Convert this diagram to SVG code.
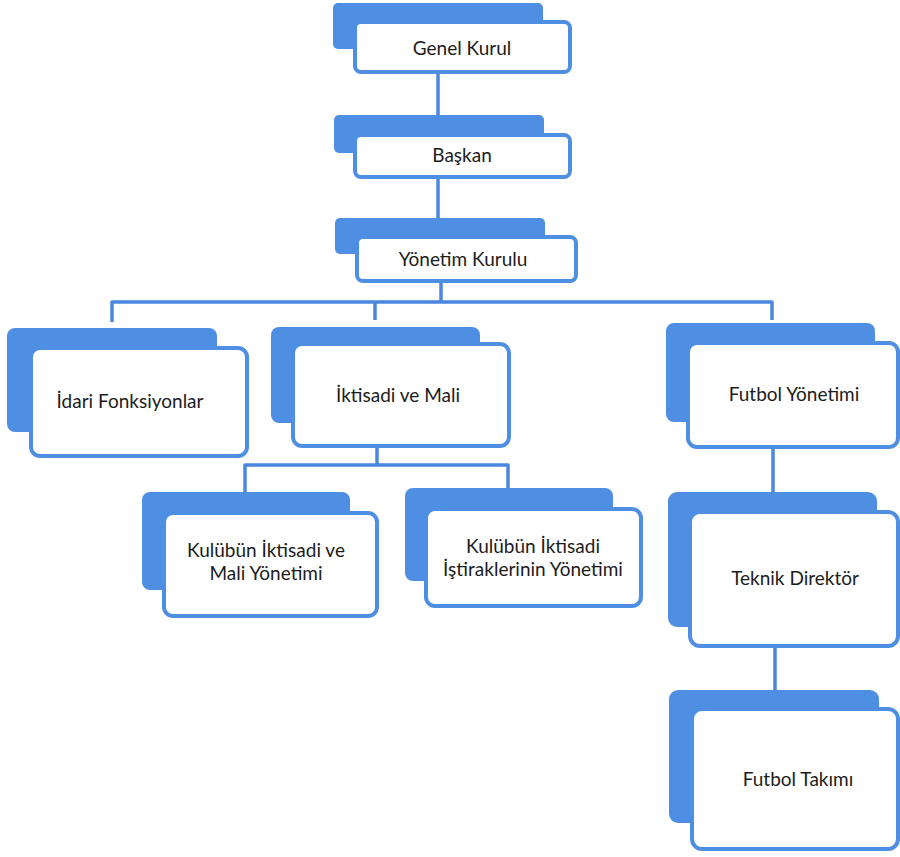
<svg xmlns="http://www.w3.org/2000/svg" width="900" height="857" viewBox="0 0 900 857">
<style>
.back{fill:#4f8fe3;}
.front{fill:#ffffff;stroke:#4f8fe3;stroke-width:4;}
.lbl{font-family:Lato,"Open Sans","Liberation Sans",sans-serif;font-size:19px;fill:#1c1c1c;text-anchor:middle;}
.conn{fill:none;stroke:#4a88df;stroke-width:3.5;stroke-linejoin:round;}
</style>
<rect width="900" height="857" fill="#ffffff"/>
<g id="connectors">
<path class="conn" d="M438,73 V117"/>
<path class="conn" d="M438,178 V218"/>
<path class="conn" d="M441,282 V302"/>
<path class="conn" d="M112,322 V302 H772 V320"/>
<path class="conn" d="M375,302 V320"/>
<path class="conn" d="M377,447 V465"/>
<path class="conn" d="M245,492 V465 H508 V490"/>
<path class="conn" d="M773,448 V492"/>
<path class="conn" d="M775,647 V692"/>
</g>
<g id="genel-kurul">
<rect class="back" x="333" y="3" width="210" height="46" rx="5"/>
<rect class="front" x="355" y="22" width="215" height="50" rx="6"/>
<text class="lbl" x="462" y="55">Genel Kurul</text>
</g>
<g id="baskan">
<rect class="back" x="334" y="115" width="210" height="38" rx="5"/>
<rect class="front" x="355" y="135" width="215" height="42" rx="6"/>
<text class="lbl" x="462" y="162">Başkan</text>
</g>
<g id="yonetim-kurulu">
<rect class="back" x="335" y="218" width="210" height="36" rx="5"/>
<rect class="front" x="357" y="237" width="219" height="44" rx="6"/>
<text class="lbl" x="463" y="266">Yönetim Kurulu</text>
</g>
<g id="idari-fonksiyonlar">
<rect class="back" x="7" y="328" width="210" height="104" rx="8"/>
<rect class="front" x="31" y="348" width="216" height="108" rx="9"/>
<text class="lbl" x="130" y="408">İdari Fonksiyonlar</text>
</g>
<g id="iktisadi-ve-mali">
<rect class="back" x="271" y="327" width="209" height="96" rx="8"/>
<rect class="front" x="293" y="344" width="216" height="102" rx="9"/>
<text class="lbl" x="398" y="402">İktisadi ve Mali</text>
</g>
<g id="futbol-yonetimi">
<rect class="back" x="666" y="323" width="209" height="99" rx="8"/>
<rect class="front" x="688" y="343" width="210" height="104" rx="9"/>
<text class="lbl" x="794" y="401">Futbol Yönetimi</text>
</g>
<g id="kulubun-iktisadi-mali">
<rect class="back" x="142" y="492" width="208" height="98" rx="8"/>
<rect class="front" x="164" y="513" width="213" height="103" rx="9"/>
<text class="lbl" x="266" y="557">Kulübün İktisadi ve</text>
<text class="lbl" x="266" y="580">Mali Yönetimi</text>
</g>
<g id="kulubun-istirakler">
<rect class="back" x="405" y="488" width="208" height="93" rx="8"/>
<rect class="front" x="426" y="509" width="215" height="97" rx="9"/>
<text class="lbl" x="533" y="553">Kulübün İktisadi</text>
<text class="lbl" x="533" y="576">İştiraklerinin Yönetimi</text>
</g>
<g id="teknik-direktor">
<rect class="back" x="668" y="492" width="209" height="135" rx="9"/>
<rect class="front" x="690" y="512" width="208" height="134" rx="10"/>
<text class="lbl" x="795" y="585">Teknik Direktör</text>
</g>
<g id="futbol-takimi">
<rect class="back" x="669" y="690" width="210" height="133" rx="9"/>
<rect class="front" x="692" y="709" width="206" height="140" rx="10"/>
<text class="lbl" x="798" y="786">Futbol Takımı</text>
</g>
</svg>
